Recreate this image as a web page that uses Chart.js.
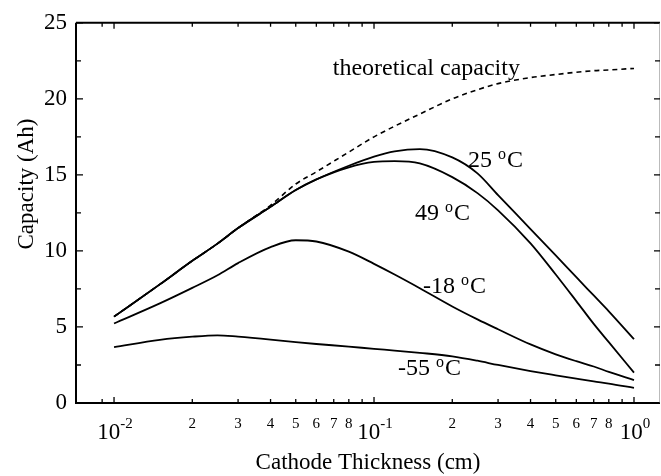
<!DOCTYPE html>
<html><head><meta charset="utf-8">
<script src="https://cdn.jsdelivr.net/npm/chart.js@4.4.1/dist/chart.umd.min.js"></script>
<style>html,body{margin:0;padding:0;background:#fff}#wrap{width:661px;height:476px}</style>
</head><body><div id="wrap"><canvas id="c" width="661" height="476"></canvas></div>
<script>
// ---- data ----
const thickness   = [0.01,0.015,0.02,0.025,0.03,0.04,0.05,0.06,0.08,0.1,0.12,0.15,0.2,0.25,0.3,0.4,0.5,0.6,0.7,0.8,1.0];
const theoretical = [5.68,7.8,9.35,10.48,11.5,13.0,14.4,15.2,16.5,17.5,18.2,19.0,20.0,20.6,21.0,21.4,21.6,21.75,21.85,21.9,22.0];
const cap25C      = [5.68,7.8,9.35,10.48,11.5,12.9,14.0,14.7,15.6,16.2,16.55,16.7,16.15,15.1,13.67,11.44,9.7,8.27,7.07,6.03,4.2];
const cap49C      = [5.68,7.8,9.35,10.48,11.5,12.9,14.0,14.7,15.5,15.85,15.9,15.75,14.85,13.8,12.67,10.5,8.45,6.7,5.2,4.0,2.0];
const capM18C     = [5.23,6.55,7.57,8.4,9.2,10.25,10.7,10.62,9.95,9.15,8.45,7.55,6.35,5.5,4.85,3.85,3.2,2.75,2.4,2.05,1.5];
const capM55C     = [3.67,4.15,4.36,4.45,4.36,4.17,4.0,3.88,3.71,3.56,3.45,3.3,3.07,2.78,2.5,2.1,1.82,1.6,1.42,1.28,1.0];

const xMajorTicks  = [0.01, 0.1, 1];
const xMajorExp    = ['-2', '-1', '0'];
const xMinorTicks  = [0.009,0.02,0.03,0.04,0.05,0.06,0.07,0.08,0.09,0.2,0.3,0.4,0.5,0.6,0.7,0.8,0.9];
const xMinorLabels = ['','2','3','4','5','6','7','8','','2','3','4','5','6','7','8',''];
const yMajorTicks  = [0,5,10,15,20,25];
const yMinorTicks  = [2.5,7.5,12.5,17.5,22.5];

const seriesLabels = [
  {text:'theoretical capacity', x:0.3642, y:21.55, align:'right', sup:''},
  {text:'25 ', sup:'o', tail:'C', x:0.2299, y:15.49},
  {text:'49 ', sup:'o', tail:'C', x:0.1438, y:12.04},
  {text:'-18 ', sup:'o', tail:'C', x:0.1543, y:7.25},
  {text:'-55 ', sup:'o', tail:'C', x:0.1237, y:1.82}
];
const xTitle = 'Cathode Thickness (cm)';
const yTitle = 'Capacity (Ah)';

const SERIF = '"Liberation Serif", "Times New Roman", serif';

function pts(ys){ return thickness.map((x,i)=>({x:x,y:ys[i]})); }

const decor = {
  id:'decor',
  afterDraw(chart){
    const ctx = chart.ctx, xs = chart.scales.x, ys = chart.scales.y, a = chart.chartArea;
    ctx.save();
    ctx.strokeStyle = '#000'; ctx.fillStyle = '#000';
    // frame
    ctx.lineWidth = 2;
    ctx.beginPath();
    ctx.moveTo(a.left, a.top); ctx.lineTo(a.left, a.bottom); ctx.lineTo(a.right, a.bottom);
    ctx.moveTo(a.left, a.top); ctx.lineTo(a.right, a.top);
    ctx.stroke();
    ctx.strokeStyle = '#bbb'; ctx.lineWidth = 1;
    ctx.beginPath(); ctx.moveTo(a.right-0.5, a.top); ctx.lineTo(a.right-0.5, a.bottom); ctx.stroke();
    ctx.strokeStyle = '#000'; ctx.lineWidth = 1.3;
    // ticks (inward)
    ctx.beginPath();
    xMajorTicks.forEach(v=>{ const p = xs.getPixelForValue(v);
      ctx.moveTo(p, a.bottom); ctx.lineTo(p, a.bottom-6);
      ctx.moveTo(p, a.top); ctx.lineTo(p, a.top+6); });
    xMinorTicks.forEach(v=>{ const p = xs.getPixelForValue(v);
      ctx.moveTo(p, a.bottom); ctx.lineTo(p, a.bottom-4);
      ctx.moveTo(p, a.top); ctx.lineTo(p, a.top+4); });
    yMajorTicks.forEach(v=>{ const p = ys.getPixelForValue(v);
      ctx.moveTo(a.left, p); ctx.lineTo(a.left+7, p);
      ctx.moveTo(a.right, p); ctx.lineTo(a.right-6, p); });
    yMinorTicks.forEach(v=>{ const p = ys.getPixelForValue(v);
      ctx.moveTo(a.left, p); ctx.lineTo(a.left+5, p);
      ctx.moveTo(a.right, p); ctx.lineTo(a.right-5, p); });
    ctx.stroke();
    // x tick labels
    ctx.textBaseline = 'alphabetic';
    xMajorTicks.forEach((v,i)=>{
      const p = xs.getPixelForValue(v);
      ctx.font = '23px ' + SERIF; const w1 = ctx.measureText('10').width;
      ctx.font = '15px ' + SERIF; const w2 = ctx.measureText(xMajorExp[i]).width;
      const x0 = p + 1 - (w1+w2)/2;
      ctx.font = '23px ' + SERIF; ctx.textAlign='left'; ctx.fillText('10', x0, a.bottom+36);
      ctx.font = '15px ' + SERIF; ctx.fillText(xMajorExp[i], x0+w1, a.bottom+25);
    });
    ctx.font = '15px ' + SERIF; ctx.textAlign = 'center';
    xMinorTicks.forEach((v,i)=>{
      if(!xMinorLabels[i]) return;
      ctx.fillText(xMinorLabels[i], xs.getPixelForValue(v), a.bottom+25);
    });
    // axis titles
    ctx.font = '23px ' + SERIF; ctx.textAlign = 'center';
    ctx.fillText(xTitle, (a.left+a.right)/2, a.bottom+66);
    ctx.save();
    ctx.translate(33, ys.getPixelForValue(14.4));
    ctx.rotate(-Math.PI/2);
    ctx.fillText(yTitle, 0, 0);
    ctx.restore();
    // series labels
    seriesLabels.forEach(l=>{
      const px = xs.getPixelForValue(l.x), py = ys.getPixelForValue(l.y);
      ctx.font = '24px ' + SERIF;
      if(l.align==='right'){ ctx.textAlign='right'; ctx.fillText(l.text, px, py); return; }
      ctx.textAlign='left';
      ctx.fillText(l.text, px, py);
      let w = ctx.measureText(l.text).width;
      ctx.font = '16px ' + SERIF;
      ctx.fillText(l.sup, px+w, py-8);
      w += ctx.measureText(l.sup).width + 1;
      ctx.font = '24px ' + SERIF;
      ctx.fillText(l.tail, px+w, py);
    });
    ctx.restore();
  }
};

const common = {fill:false, pointRadius:0, borderColor:'#000', borderWidth:1.8, cubicInterpolationMode:'monotone'};
new Chart(document.getElementById('c'), {
  type:'line',
  data:{ datasets:[
    Object.assign({label:'theoretical', data:pts(theoretical), borderDash:[5,4], borderWidth:1.6}, {fill:false, pointRadius:0, borderColor:'#000', cubicInterpolationMode:'monotone'}),
    Object.assign({label:'25 C', data:pts(cap25C)}, common),
    Object.assign({label:'49 C', data:pts(cap49C)}, common),
    Object.assign({label:'-18 C', data:pts(capM18C)}, common),
    Object.assign({label:'-55 C', data:pts(capM55C)}, common)
  ]},
  options:{
    responsive:false, animation:false, devicePixelRatio:1,
    layout:{padding:{top:19, right:1, left:0, bottom:0}},
    plugins:{legend:{display:false}, tooltip:{enabled:false}},
    scales:{
      x:{type:'logarithmic', min:0.00714, max:1.259,
         ticks:{display:false}, grid:{display:false, drawTicks:false}, border:{display:false},
         afterFit(s){ s.height = 73; }},
      y:{min:0, max:25,
         ticks:{stepSize:5, color:'#000', padding:9, font:{family:SERIF, size:23}},
         grid:{display:false, drawTicks:false}, border:{display:false},
         afterFit(s){ s.width = 76; }}
    }
  },
  plugins:[decor]
});
</script></body></html>
